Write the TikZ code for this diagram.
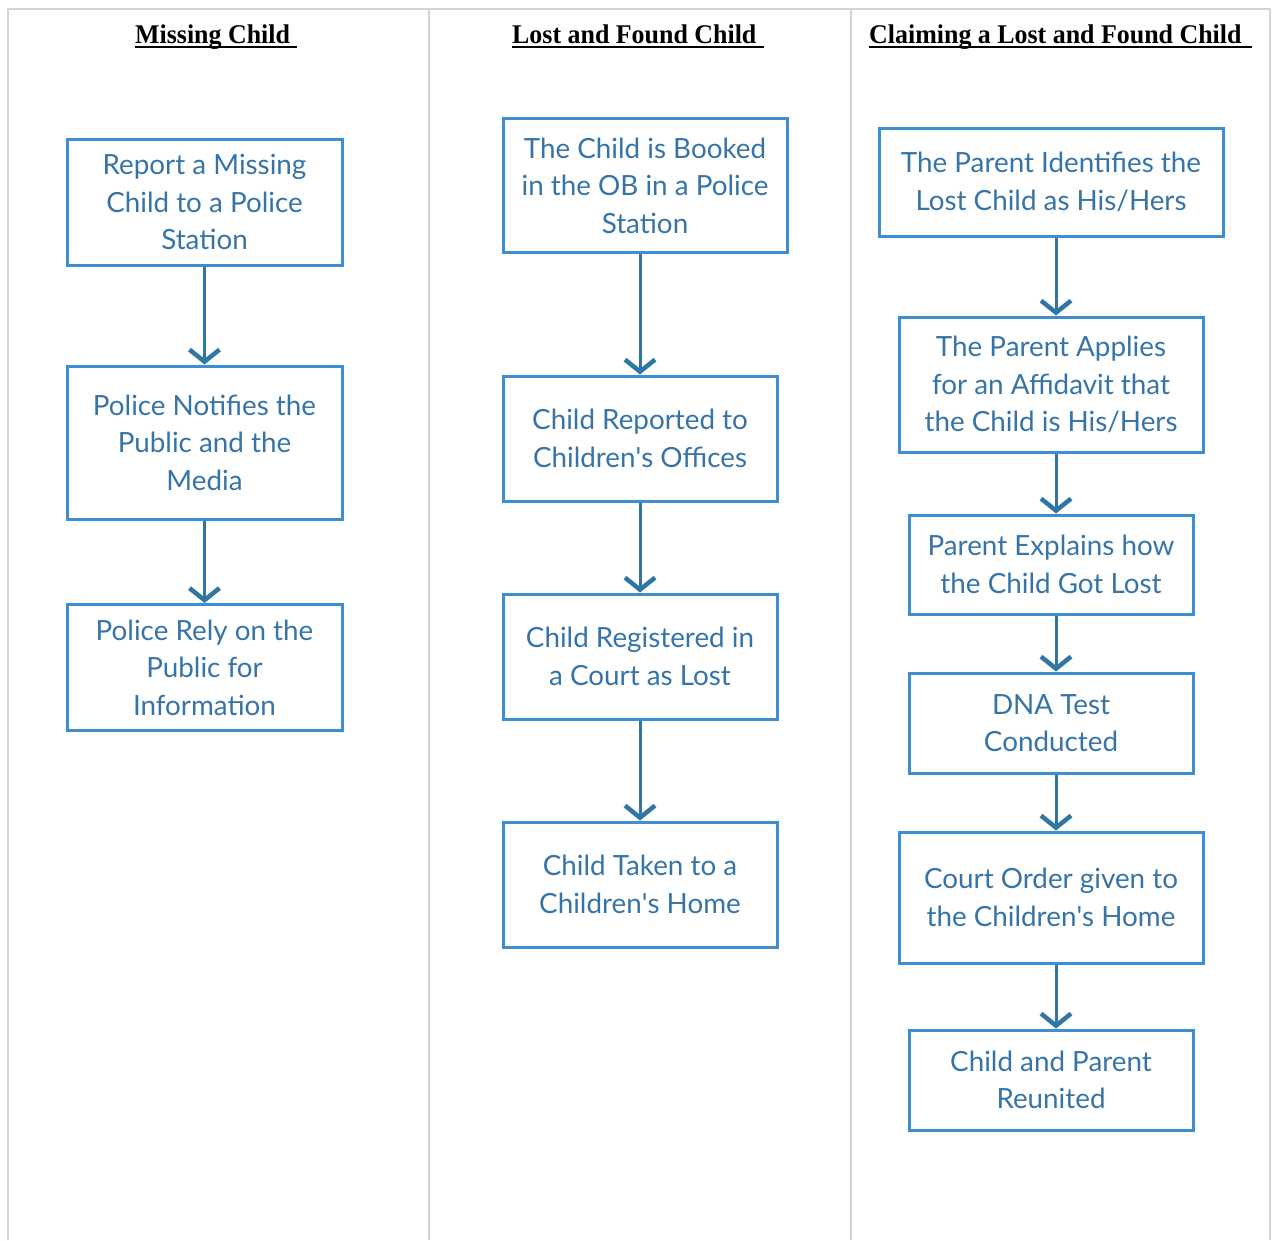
\documentclass[tikz,border=0pt]{standalone}
\usepackage{fontspec}
\setmainfont{Lato}
\newfontfamily\headfont{Liberation Serif}
\usetikzlibrary{arrows.meta}
\definecolor{boxline}{HTML}{3D8ED3}
\definecolor{boxtext}{HTML}{3674A8}
\definecolor{flowline}{HTML}{2F76A4}
\definecolor{gridline}{HTML}{D4D4D4}
\newcommand{\apos}{\textquotesingle}
\tikzset{
  stepbox/.style={draw=boxline, line width=3pt, rectangle, inner sep=0pt,
    text=boxtext, align=center,
    font=\fontsize{27.8}{37.5}\selectfont},
  flow/.style={draw=flowline, line width=3pt,
    -{Straight Barb[length=12pt, width=30pt, line width=4.5pt]}},
  heading/.style={anchor=base west, inner sep=0pt,
    font=\headfont\bfseries\fontsize{27}{30}\selectfont},
  headrule/.style={line width=2pt},
  grid/.style={draw=gridline, line width=2pt}
}
\begin{document}
\begin{tikzpicture}[x=1pt, y=-1pt]
\useasboundingbox (0,0) rectangle (1272,1240);

% table frame
\draw[grid] (8,1240) -- (8,9) -- (1270,9) -- (1270,1240);
\draw[grid] (429,9) -- (429,1240);
\draw[grid] (851,9) -- (851,1240);

% column headings
\node[heading] (h1) at (135,43) {\scalebox{0.96}[1]{Missing Child}};
\node[heading] (h2) at (512,43) {\scalebox{0.96}[1]{Lost and Found Child}};
\node[heading] (h3) at (869,43) {\scalebox{0.96}[1]{Claiming a Lost and Found Child}};
\draw[headrule] (135,46.5) -- (297,46.5);
\draw[headrule] (512,46.5) -- (764,46.5);
\draw[headrule] (869,46.5) -- (1252,46.5);

% Missing Child
\node[stepbox, minimum width=275pt, minimum height=126pt] (a1) at (204.5,202)
  {Report a Missing\\Child to a Police\\Station};
\node[stepbox, minimum width=275pt, minimum height=153pt] (a2) at (204.5,442.5)
  {Police Notifies the\\Public and the\\Media};
\node[stepbox, minimum width=275pt, minimum height=126pt] (a3) at (204.5,667.5)
  {Police Rely on the\\Public for\\Information};
\draw[flow] (a1.south) -- (a2.north);
\draw[flow] (a2.south) -- (a3.north);

% Lost and Found Child
\node[stepbox, minimum width=284pt, minimum height=134pt] (b1) at (645,185.5)
  {The Child is Booked\\in the OB in a Police\\Station};
\node[stepbox, minimum width=274pt, minimum height=125pt] (b2) at (640,438.5)
  {Child Reported to\\Children\apos s Offices};
\node[stepbox, minimum width=274pt, minimum height=125pt] (b3) at (640,656.5)
  {Child Registered in\\a Court as Lost};
\node[stepbox, minimum width=274pt, minimum height=125pt] (b4) at (640,884.5)
  {Child Taken to a\\Children\apos s Home};
\draw[flow] (b2.north |- b1.south) -- (b2.north);
\draw[flow] (b2.south) -- (b3.north);
\draw[flow] (b3.south) -- (b4.north);

% Claiming a Lost and Found Child
\node[stepbox, minimum width=344pt, minimum height=108pt] (c1) at (1051,182)
  {The Parent Identifies the\\Lost Child as His/Hers};
\node[stepbox, minimum width=304pt, minimum height=135pt] (c2) at (1051,384.5)
  {The Parent Applies\\for an Affidavit that\\the Child is His/Hers};
\node[stepbox, minimum width=284pt, minimum height=99pt] (c3) at (1051,564.5)
  {Parent Explains how\\the Child Got Lost};
\node[stepbox, minimum width=284pt, minimum height=100pt] (c4) at (1051,723)
  {DNA Test\\Conducted};
\node[stepbox, minimum width=304pt, minimum height=131pt] (c5) at (1051,897.5)
  {Court Order given to\\the Children\apos s Home};
\node[stepbox, minimum width=284pt, minimum height=100pt] (c6) at (1051,1080)
  {Child and Parent\\Reunited};
\draw[flow] ([xshift=5pt]c1.south) -- ([xshift=5pt]c2.north);
\draw[flow] ([xshift=5pt]c2.south) -- ([xshift=5pt]c3.north);
\draw[flow] ([xshift=5pt]c3.south) -- ([xshift=5pt]c4.north);
\draw[flow] ([xshift=5pt]c4.south) -- ([xshift=5pt]c5.north);
\draw[flow] ([xshift=5pt]c5.south) -- ([xshift=5pt]c6.north);
\end{tikzpicture}
\end{document}
